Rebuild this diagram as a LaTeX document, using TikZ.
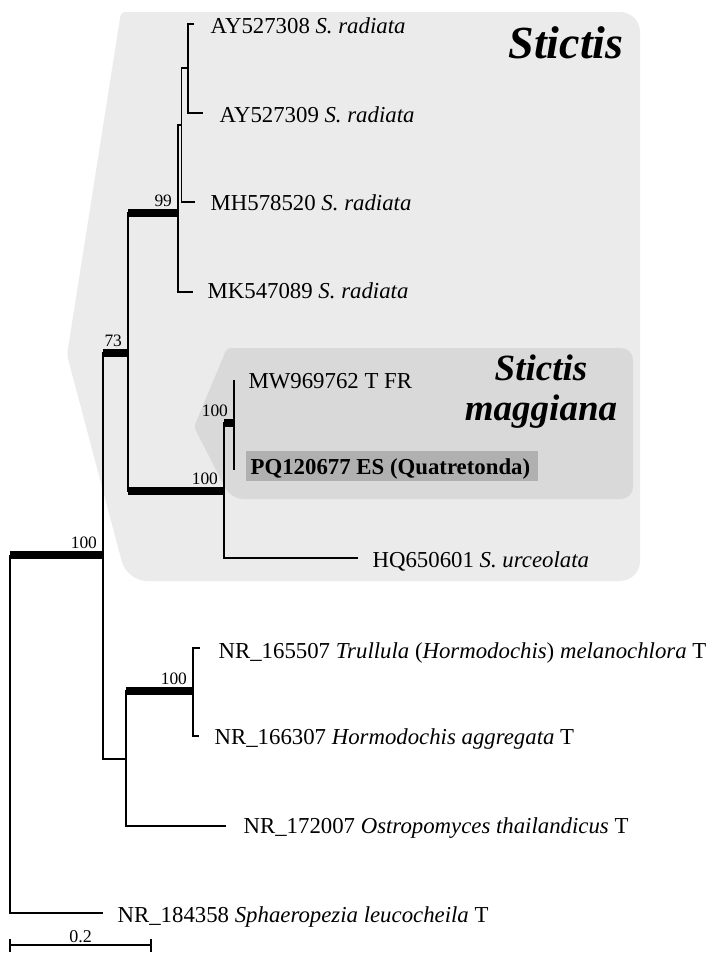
\documentclass[tikz,border=0pt]{standalone}
\usepackage{fontspec}
\setmainfont{Liberation Serif}
\usepackage{tikz}
\definecolor{cladeout}{HTML}{EBEBEB}
\definecolor{cladein}{HTML}{D9D9D9}
\definecolor{newseq}{HTML}{B0B0B0}

\begin{document}
\begin{tikzpicture}[x=0.5pt,y=-0.5pt,line width=0.65pt,
	bar/.style={line width=3.6pt},
	tip/.style={anchor=base west,inner sep=0pt,font=\fontsize{11.4}{13}\selectfont},
	boot/.style={anchor=base east,inner sep=0pt,xshift=-1.25pt,yshift=3.25pt,font=\fontsize{8.7}{10}\selectfont},
	genus/.style={anchor=base,inner sep=0pt,font=\bfseries\itshape}]
	\useasboundingbox (0,0) rectangle (709,958);
	% Shade the clades
	\fill[cladeout,rounded corners=2pt] (67,355) -- (121,12) [rounded corners=10pt] -- (640,12) -- (640,581) -- (127,581) [rounded corners=2pt] -- cycle;
	\fill[cladein,rounded corners=2pt] (194,427) -- (227,348) [rounded corners=6pt] -- (633,348) -- (633,499) -- (231,499) [rounded corners=2pt] -- cycle;
	\fill[newseq] (246,451) rectangle (538,481);
	\node[genus,font=\fontsize{23}{26}\selectfont\bfseries\itshape] (stictis) at (566,58) {Stictis};
	\node[genus,font=\fontsize{18.5}{20}\selectfont\bfseries\itshape] (maggA) at (541,380) {Stictis};
	\node[genus,font=\fontsize{18.5}{20}\selectfont\bfseries\itshape] (maggB) at (541,420) {maggiana};
	% Inner nodes
	\coordinate (root) at (10,555);
	\coordinate (A) at (103,555);
	\coordinate (B) at (128,353);
	\coordinate (C) at (178,213);
	\coordinate (C1) at (181.7,125);
	\coordinate (C2) at (188,68);
	\coordinate (D) at (224,491);
	\coordinate (G) at (234,423);
	\coordinate (E) at (126,759);
	\coordinate (F) at (193,691);
	% Branch ends
	\coordinate (ay08e) at (194,24);
	\coordinate (ay09e) at (203,113);
	\coordinate (mh20e) at (195,202);
	\coordinate (mk89e) at (193,292);
	\coordinate (mw62e) at (234,380);
	\coordinate (pq77e) at (234,470);
	\coordinate (hq01e) at (358,558);
	\coordinate (nr07e) at (199.5,648);
	\coordinate (nr66e) at (199,736);
	\coordinate (nr72e) at (226,826);
	\coordinate (nr58e) at (103,913);
	% Branches
	\draw (root) |- (nr58e);
	\draw[bar] (root) -- (A) node[boot] {100};
	\draw (A) |- (B);
	\draw[bar] (A|-B) -- (B) node[boot] {73};
	\draw (A) |- (E);
	\draw (B) |- (C);
	\draw[bar] (B|-C) -- (C) node[boot] {99};
	\draw (B) |- (D);
	\draw[bar] (B|-D) -- (D) node[boot] {100};
	\draw (C) |- (C1);
	\draw (C) |- (mk89e);
	\draw (C1) |- (C2);
	\draw (C1) |- (mh20e);
	\draw (C2) |- (ay08e);
	\draw (C2) |- (ay09e);
	\draw (D) |- (G);
	\draw[bar] (D|-G) -- (G) node[boot] {100};
	\draw (D) |- (hq01e);
	\draw (mw62e) -- (pq77e);
	\draw (E) |- (F);
	\draw[bar] (E|-F) -- (F) node[boot] {100};
	\draw (E) |- (nr72e);
	\draw (F) |- (nr07e);
	\draw (F) |- (nr66e);
	% Tip labels
	\node[tip] (ay08) at (210,33) {AY527308 \textit{S. radiata}};
	\node[tip] (ay09) at (219,122) {AY527309 \textit{S. radiata}};
	\node[tip] (mh20) at (210,210) {MH578520 \textit{S. radiata}};
	\node[tip] (mk89) at (207,298) {MK547089 \textit{S. radiata}};
	\node[tip] (mw62) at (248,388) {MW969762 T FR};
	\node[tip,font=\fontsize{11.4}{13}\selectfont\bfseries] (pq77) at (250,474) {PQ120677 ES (Quatretonda)};
	\node[tip] (hq01) at (372,567) {HQ650601 \textit{S. urceolata}};
	\node[tip] (nr07) at (218,658) {NR\_165507 \textit{Trullula} (\textit{Hormodochis}) \textit{melanochlora} T};
	\node[tip] (nr66) at (214,744) {NR\_166307 \textit{Hormodochis aggregata} T};
	\node[tip] (nr72) at (243,833) {NR\_172007 \textit{Ostropomyces thailandicus} T};
	\node[tip] (nr58) at (117,922) {NR\_184358 \textit{Sphaeropezia leucocheila} T};
	% Scale bar
	\coordinate (sb0) at (10,945);
	\coordinate (sb1) at (151,945);
	\draw (sb0) -- (sb1) node[midway,anchor=base,inner sep=0pt,yshift=1.5pt,font=\fontsize{9}{10}\selectfont] (sbl) {0.2};
	\foreach \c in {sb0,sb1} \draw ([yshift=3pt]\c) -- ([yshift=-3.5pt]\c);
\end{tikzpicture}
\end{document}
